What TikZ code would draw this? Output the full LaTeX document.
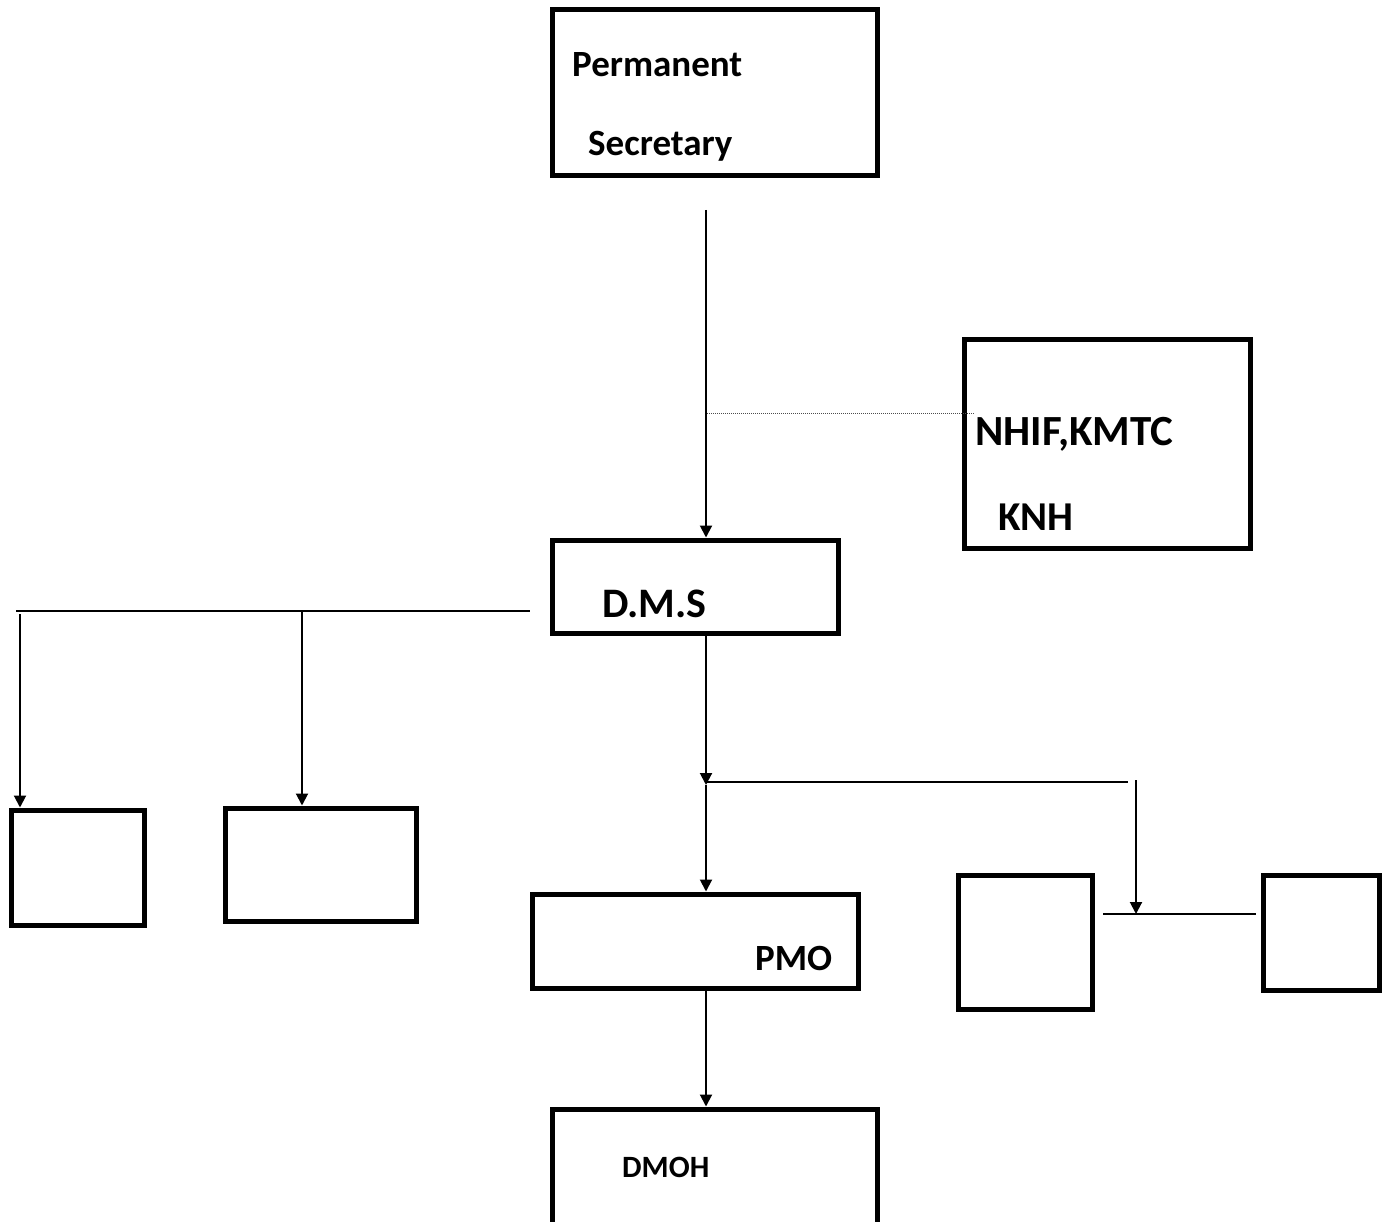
\documentclass[tikz,border=0pt]{standalone}
\usepackage{fontspec}
\setmainfont{Carlito}
\usetikzlibrary{arrows.meta}
\begin{document}
\begin{tikzpicture}[x=1pt,y=-1pt,
  box/.style={draw=black,line width=5pt,rectangle,inner sep=0pt},
  lbl/.style={anchor=base west,inner sep=0pt,font=\bfseries\fontsize{37}{44}\selectfont},
  conn/.style={draw=black,line width=2pt},
  arr/.style={conn,-{Triangle[length=12pt,width=12pt]}},
  dots/.style={draw=black!70,line width=1pt,dash pattern=on 1pt off 1pt}]
\clip (0,0) rectangle (1384,1222);
\fill[white] (0,0) rectangle (1384,1222);
% boxes
\node[box,minimum width=325pt,minimum height=166pt] (ps) at (714.5,93) {};
\node[box,minimum width=286pt,minimum height=208pt] (nhif) at (1107,444) {};
\node[box,minimum width=286pt,minimum height=93pt] (dms) at (695,586.5) {};
\node[box,minimum width=133pt,minimum height=115pt] (l1) at (77.5,867.5) {};
\node[box,minimum width=191pt,minimum height=113pt] (l2) at (320.5,864.5) {};
\node[box,minimum width=326pt,minimum height=94pt] (pmo) at (695,941) {};
\node[box,minimum width=134pt,minimum height=134pt] (r1) at (1025,942) {};
\node[box,minimum width=116pt,minimum height=115pt] (r2) at (1321,932.5) {};
\node[box,minimum width=325pt,minimum height=131pt] (dmoh) at (714.5,1174.5) {};
% labels
\node[lbl] (t1) at (572,77) {Permanent};
\node[lbl] (t2) at (588,156) {Secretary};
\node[lbl,font=\bfseries\fontsize{43}{50}\selectfont] (t3) at (975,445) {NHIF,KMTC};
\node[lbl,font=\bfseries\fontsize{41}{48}\selectfont] (t4) at (998,530) {KNH};
\node[lbl,font=\bfseries\fontsize{42}{50}\selectfont] (t5) at (602,617) {D.M.S};
\node[lbl] (t6) at (755,970) {PMO};
\node[lbl,font=\bfseries\fontsize{31}{37}\selectfont] (t7) at (622,1177) {DMOH};
% coordinates
\coordinate (a0) at (706,210);
\coordinate (dA) at (707,413);
\coordinate (dB) at (975,413);
\coordinate (h0) at (16,611);
\coordinate (h1) at (530,611);
\coordinate (v1) at (20,614);
\coordinate (v2) at (302,611);
\coordinate (j0) at (706,635);
\coordinate (j1) at (706,785);
\coordinate (k0) at (706,782);
\coordinate (k1) at (1128,782);
\coordinate (m0) at (1136,780);
\coordinate (m1) at (1136,914);
\coordinate (n0) at (1103,914);
\coordinate (n1) at (1256,914);
\coordinate (p0) at (706,988);
% connectors
\draw[arr] (a0) -- (a0 |- dms.north);
\draw[dots] (dA) -- (dB);
\draw[conn] (h0) -- (h1);
\draw[arr] (v1) -- (v1 |- l1.north);
\draw[arr] (v2) -- (v2 |- l2.north);
\draw[arr] (j0) -- (j1);
\draw[arr] (j1) -- (j1 |- pmo.north);
\draw[conn] (k0) -- (k1);
\draw[arr] (m0) -- (m1);
\draw[conn] (n0) -- (n1);
\draw[arr] (p0) -- (p0 |- dmoh.north);
\end{tikzpicture}
\end{document}
